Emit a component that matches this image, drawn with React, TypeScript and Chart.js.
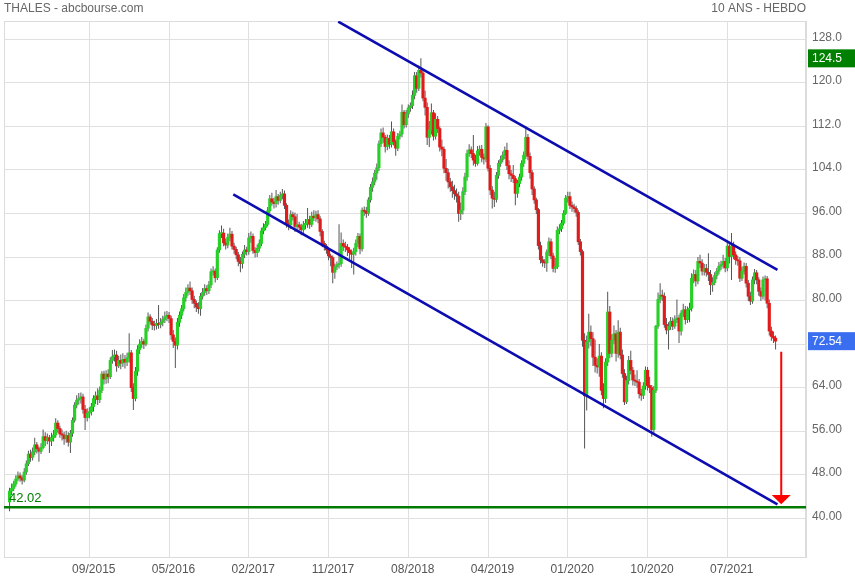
import React, { useEffect, useRef } from "react";
import { Chart, registerables } from "chart.js";

Chart.register(...registerables);

// ---- data (weekly candles, index 0 = first week shown) ----
const firstOpen = 43.0;

const closes = [
  45.0, 45.5, 46.3, 47.2, 47.8, 47.4, 47.0, 48.5, 50.0, 51.8,
  51.2, 52.2, 53.5, 52.8, 52.3, 53.0, 55.0, 54.3, 54.8, 54.2,
  54.8, 55.3, 57.5, 56.5, 55.5, 55.3, 54.6, 55.2, 54.0, 55.6,
  58.0, 60.8, 61.7, 62.0, 62.3, 60.0, 58.5, 59.3, 59.6, 60.5,
  62.0, 62.5, 61.8, 63.5, 66.5, 65.6, 66.5, 66.0, 69.0, 69.7,
  70.0, 68.0, 69.0, 68.5, 69.2, 68.7, 69.5, 70.4, 64.0, 62.0,
  67.0, 71.0, 72.0, 72.5, 72.0, 74.9, 77.0, 76.2, 75.5, 75.4,
  75.8, 75.6, 76.0, 76.5, 77.0, 77.3, 76.7, 73.7, 72.5, 71.8,
  76.0, 77.3, 78.5, 80.5, 81.5, 82.3, 81.8, 80.2, 79.5, 78.8,
  78.5, 80.8, 81.5, 82.2, 81.8, 82.9, 85.3, 85.4, 84.2, 89.3,
  92.3, 92.4, 90.6, 90.2, 91.6, 92.2, 90.0, 89.4, 88.4, 87.2,
  86.8, 88.5, 89.3, 89.0, 91.5, 91.8, 89.2, 88.8, 89.6, 90.5,
  92.8, 93.4, 94.0, 96.5, 98.7, 98.1, 97.8, 99.1, 98.4, 99.3,
  99.6, 97.5, 94.2, 93.9, 95.8, 95.4, 93.6, 93.9, 93.5, 93.0,
  93.9, 94.2, 94.9, 94.0, 95.5, 95.2, 95.8, 95.0, 92.7, 90.5,
  90.0, 89.3, 88.2, 87.9, 85.2, 86.2, 86.6, 86.8, 90.5, 90.0,
  89.8, 89.3, 88.8, 88.5, 89.0, 90.5, 91.8, 89.5, 96.6, 96.4,
  96.0, 98.5, 100.8, 101.8, 103.4, 104.4, 108.8, 110.8, 110.0, 108.3,
  109.8, 108.7, 111.0, 109.2, 108.0, 110.2, 110.6, 114.6, 112.3, 114.3,
  115.4, 115.8, 117.7, 121.3, 119.0, 122.3, 121.8, 117.2, 115.5, 110.0,
  111.3, 114.5, 110.2, 113.3, 111.6, 108.2, 107.8, 104.3, 103.5, 101.8,
  100.9, 100.2, 99.6, 99.2, 96.0, 96.6, 100.0, 102.7, 107.0, 107.7,
  107.0, 105.8, 105.2, 107.5, 107.8, 106.3, 106.0, 111.9, 104.3, 100.3,
  98.8, 98.6, 103.0, 105.2, 105.9, 106.7, 107.6, 104.8, 103.3, 103.0,
  102.4, 99.7, 101.5, 102.7, 105.2, 106.7, 110.0, 106.5, 103.5, 100.5,
  98.5, 96.7, 90.1, 87.5, 87.0, 86.9, 88.9, 90.8, 88.2, 85.9,
  86.2, 92.9, 93.2, 94.2, 96.0, 98.8, 99.1, 97.5, 97.2, 96.9,
  96.2, 90.8, 89.0, 72.7, 62.5, 72.4, 74.2, 73.0, 69.6, 68.1,
  67.8, 69.8, 63.5, 62.0, 68.7, 77.9, 70.3, 72.7, 73.9, 70.3,
  74.2, 70.0, 66.6, 61.4, 65.3, 69.0, 67.2, 65.4, 65.2, 65.0,
  62.9, 62.6, 64.3, 67.2, 64.4, 64.0, 56.3, 63.5, 75.3, 80.2,
  81.0, 80.8, 75.6, 74.6, 75.3, 76.2, 75.3, 76.5, 76.8, 74.4,
  77.7, 78.3, 76.5, 78.3, 78.6, 84.1, 84.8, 83.6, 87.2, 86.9,
  85.4, 85.9, 85.2, 84.8, 82.9, 83.3, 84.6, 85.4, 86.3, 86.6,
  87.2, 86.0, 90.0, 88.1, 90.0, 88.4, 87.5, 87.3, 84.1, 85.4,
  86.3, 83.2, 80.8, 79.9, 83.8, 85.1, 83.8, 81.7, 80.8, 83.8,
  84.0, 79.5, 74.4, 73.4, 73.1, 72.54,
];

const highs = [
  45.6, 46.4, 46.9, 47.9, 48.6, 48.4, 47.9, 49.2, 50.6, 52.4,
  52.6, 53.0, 54.8, 54.0, 53.2, 53.8, 56.3, 55.8, 55.6, 55.3,
  55.7, 56.2, 58.4, 58.0, 57.0, 56.3, 55.9, 56.1, 55.8, 56.2,
  58.5, 61.3, 62.6, 63.0, 63.1, 62.9, 60.8, 60.2, 60.4, 61.2,
  62.6, 63.3, 63.9, 64.2, 67.0, 67.1, 67.2, 67.4, 69.6, 70.9,
  71.0, 70.8, 69.8, 70.1, 70.3, 70.0, 70.4, 74.0, 70.9, 64.8,
  67.8, 71.8, 72.9, 73.3, 73.0, 75.6, 77.8, 77.5, 76.8, 76.3,
  76.6, 79.2, 76.8, 77.2, 78.0, 78.1, 77.9, 77.2, 74.6, 73.2,
  76.8, 78.0, 79.2, 81.2, 82.4, 83.0, 83.5, 82.4, 80.9, 80.0,
  79.7, 81.4, 82.3, 83.0, 82.8, 83.6, 85.9, 86.3, 85.9, 89.8,
  92.9, 93.8, 93.2, 91.4, 92.3, 93.4, 92.8, 90.6, 89.9, 88.9,
  88.0, 89.0, 90.2, 89.9, 92.4, 92.7, 92.3, 89.8, 90.3, 91.2,
  93.4, 94.2, 94.6, 97.2, 99.4, 99.8, 98.9, 100.3, 99.6, 100.0,
  100.5, 100.2, 97.9, 94.9, 96.6, 96.3, 96.2, 95.9, 94.5, 94.1,
  94.6, 95.0, 97.0, 95.6, 96.3, 96.6, 96.5, 96.6, 95.5, 93.1,
  91.0, 90.4, 89.8, 88.6, 88.3, 86.8, 87.2, 94.0, 92.5, 91.2,
  90.8, 90.4, 89.8, 89.4, 89.7, 91.2, 92.4, 92.3, 97.1, 97.3,
  97.2, 99.0, 101.4, 102.6, 104.0, 105.2, 109.4, 111.6, 111.8, 110.4,
  110.5, 110.4, 112.9, 111.6, 109.6, 110.8, 111.2, 116.0, 115.0, 115.0,
  116.0, 116.4, 118.6, 122.0, 122.0, 123.2, 124.5, 122.3, 118.6, 116.4,
  113.0, 116.2, 115.0, 114.4, 113.9, 112.0, 109.6, 108.3, 106.0, 104.2,
  102.5, 102.0, 101.3, 100.6, 100.0, 98.0, 100.8, 103.5, 107.7, 108.7,
  108.3, 110.4, 106.8, 108.4, 108.5, 108.6, 107.0, 112.6, 112.2, 104.9,
  101.0, 100.0, 103.6, 105.8, 106.6, 107.4, 108.3, 109.0, 105.8, 104.0,
  104.9, 102.9, 102.2, 103.3, 105.8, 107.4, 112.0, 110.6, 107.2, 104.0,
  101.0, 98.9, 97.0, 90.8, 88.2, 87.6, 89.4, 91.6, 91.4, 88.8,
  87.8, 93.6, 94.0, 94.8, 96.6, 99.4, 100.0, 100.0, 98.2, 97.8,
  97.4, 96.6, 91.3, 89.4, 74.0, 73.6, 77.6, 75.4, 74.2, 72.8,
  69.4, 72.0, 70.5, 64.8, 69.4, 81.6, 79.0, 73.8, 75.4, 74.6,
  76.4, 75.0, 71.0, 67.4, 66.2, 69.8, 70.8, 67.8, 66.4, 67.2,
  65.6, 63.8, 65.0, 67.9, 67.8, 66.0, 64.5, 64.3, 75.5, 81.5,
  83.2, 82.0, 81.5, 76.8, 76.0, 77.0, 76.9, 77.3, 80.2, 77.4,
  78.2, 79.4, 79.0, 78.9, 79.6, 85.0, 85.7, 85.6, 88.0, 88.4,
  87.6, 86.7, 86.7, 88.7, 85.6, 84.3, 85.2, 86.0, 87.1, 87.3,
  88.4, 87.8, 90.8, 90.7, 92.4, 90.8, 89.0, 88.2, 88.0, 86.2,
  87.0, 86.9, 83.8, 81.6, 84.4, 85.8, 85.6, 84.3, 82.4, 84.4,
  84.6, 84.5, 80.2, 75.2, 74.3, 73.6,
];

const lows = [
  41.3, 44.3, 45.0, 45.8, 46.8, 46.7, 46.2, 46.6, 48.0, 49.6,
  50.4, 50.6, 51.6, 51.9, 50.4, 51.8, 52.7, 53.3, 53.6, 52.0,
  53.3, 54.1, 54.8, 55.7, 54.8, 54.3, 53.5, 53.9, 53.2, 52.0,
  55.0, 57.6, 60.2, 60.9, 61.1, 59.2, 56.2, 57.8, 58.4, 58.9,
  59.6, 61.0, 60.8, 61.2, 63.0, 64.6, 64.7, 64.8, 65.6, 68.4,
  68.8, 66.9, 67.6, 67.4, 67.8, 67.5, 68.0, 68.6, 63.2, 59.9,
  61.5, 66.2, 70.2, 71.3, 71.1, 71.6, 74.3, 75.6, 74.6, 74.5,
  74.7, 74.8, 74.9, 75.3, 75.9, 76.2, 75.9, 72.8, 71.3, 67.6,
  71.0, 75.2, 76.6, 78.0, 79.8, 80.9, 81.0, 79.4, 78.6, 77.9,
  77.6, 77.2, 80.2, 80.9, 81.0, 81.2, 82.3, 84.6, 83.3, 83.8,
  88.8, 91.5, 90.0, 89.4, 89.6, 90.9, 89.4, 88.6, 87.6, 86.3,
  85.2, 85.9, 87.8, 88.3, 88.4, 90.6, 88.6, 87.9, 88.0, 89.0,
  90.0, 92.2, 92.9, 93.6, 96.0, 97.4, 96.9, 97.1, 97.6, 97.9,
  98.6, 96.8, 93.4, 92.9, 93.2, 94.7, 92.6, 92.9, 92.6, 92.0,
  92.3, 93.1, 93.4, 93.2, 93.5, 94.6, 94.5, 94.2, 91.8, 89.8,
  89.2, 88.6, 87.4, 86.3, 83.2, 84.0, 85.6, 85.9, 86.2, 89.1,
  88.9, 88.2, 87.6, 86.0, 84.8, 88.3, 89.8, 88.5, 89.0, 95.6,
  95.2, 95.6, 98.0, 100.0, 101.2, 102.2, 103.8, 108.2, 109.0, 107.2,
  107.6, 107.9, 108.1, 108.5, 106.6, 107.5, 109.6, 110.0, 111.6, 111.8,
  113.6, 114.7, 115.2, 117.0, 118.2, 118.5, 121.0, 116.6, 114.0, 108.6,
  108.2, 110.5, 109.4, 109.6, 110.8, 107.4, 106.5, 103.4, 102.0, 100.6,
  100.0, 98.9, 98.5, 98.0, 94.5, 94.8, 95.8, 99.4, 102.0, 106.4,
  106.2, 104.8, 104.6, 104.8, 106.6, 105.4, 105.0, 105.4, 103.7, 99.4,
  96.9, 97.2, 98.0, 102.4, 104.6, 105.4, 106.0, 104.0, 102.3, 101.8,
  101.6, 97.5, 98.9, 100.8, 102.0, 104.6, 106.0, 105.8, 102.4, 99.4,
  97.8, 95.9, 89.4, 86.8, 86.2, 86.0, 85.3, 88.2, 87.6, 85.2,
  85.1, 85.8, 92.2, 92.6, 93.8, 95.7, 98.0, 96.8, 96.3, 96.2,
  95.4, 90.2, 88.3, 71.5, 52.8, 59.8, 71.2, 71.6, 68.0, 66.8,
  66.6, 66.0, 62.6, 60.2, 61.2, 68.0, 69.4, 69.6, 72.0, 68.8,
  69.5, 69.2, 65.8, 60.8, 61.0, 64.6, 66.4, 64.4, 64.3, 64.0,
  62.0, 61.6, 61.9, 63.6, 63.5, 63.0, 55.0, 55.4, 63.0, 74.8,
  79.5, 79.9, 75.0, 73.8, 71.0, 74.6, 74.6, 74.8, 75.9, 72.2,
  73.6, 77.0, 75.6, 75.9, 76.0, 78.0, 83.2, 82.6, 83.0, 86.0,
  84.6, 84.6, 84.4, 83.6, 81.0, 81.6, 82.8, 83.9, 84.8, 85.6,
  85.9, 85.2, 85.4, 86.8, 83.8, 87.6, 86.6, 86.4, 83.4, 83.6,
  84.8, 82.4, 79.9, 79.2, 79.4, 83.0, 83.0, 80.9, 79.9, 80.2,
  80.0, 78.6, 73.6, 72.6, 72.2, 71.0,
];

const xTickIndex = [38, 76, 114, 152, 190, 228, 266, 304, 342];
const xTickLabels = ["09/2015", "05/2016", "02/2017", "11/2017", "08/2018", "04/2019", "01/2020", "10/2020", "07/2021"];
const yTicks = [40, 48, 56, 64, 72, 80, 88, 96, 104, 112, 120, 128];

const upperTrend = [ { x: 156.6, y: 131.25 }, { x: 365.9, y: 85.63 } ];
const lowerTrend = [ { x: 106.6, y: 99.49 }, { x: 365.9, y: 42.57 } ];
const supportLevel = 42.02;
const arrowX = 367.7;
const arrowTop = 70.6;
const arrowHeadTop = 44.3;
const arrowTip = 42.6;

const titleLeft = "THALES - abcbourse.com";
const titleRight = "10 ANS - HEBDO";

const X_MIN = -2.64;
const X_MAX = 379.5;
const Y_MIN = 32.89;
const Y_MAX = 131.36;

const FONT = '"Liberation Sans", Arial, Helvetica, sans-serif';
const GREEN = "#26d026";
const RED = "#e01b1b";
const BLUE = "#0c0cb0";

const opens = closes.map((c, i) => (i === 0 ? firstOpen : closes[i - 1]));

const decorPlugin = {
  id: "decor",
  beforeDatasetsDraw(chart: any) {
    const { ctx, chartArea: a } = chart;
    ctx.save();
    ctx.strokeStyle = "#dcdcdc";
    ctx.lineWidth = 1;
    ctx.strokeRect(a.left + 0.5, a.top + 0.5, a.right - a.left - 1, a.bottom - a.top);
    ctx.restore();
  },
  afterDraw(chart: any) {
    const { ctx, chartArea: a, scales } = chart;
    const xs = scales.x;
    const ys = scales.y;
    ctx.save();
    // header texts
    ctx.font = "12px " + FONT;
    ctx.fillStyle = "#666666";
    ctx.textBaseline = "middle";
    ctx.textAlign = "left";
    ctx.fillText(titleLeft, 4, 9);
    ctx.textAlign = "right";
    ctx.fillText(titleRight, a.right, 9);

    // support label
    ctx.font = "13px " + FONT;
    ctx.fillStyle = "#008000";
    ctx.textAlign = "left";
    ctx.textBaseline = "alphabetic";
    ctx.fillText(supportLevel.toFixed(2), a.left + 5, ys.getPixelForValue(supportLevel) - 5);

    // arrow head
    const ax = xs.getPixelForValue(arrowX);
    const ht = ys.getPixelForValue(arrowHeadTop);
    const tip = ys.getPixelForValue(arrowTip);
    ctx.fillStyle = "#ff0000";
    ctx.beginPath();
    ctx.moveTo(ax - 9.5, ht);
    ctx.lineTo(ax + 9.5, ht);
    ctx.lineTo(ax, tip);
    ctx.closePath();
    ctx.fill();

    // price tags
    const maxHigh = Math.max(...highs);
    const last = closes[closes.length - 1];
    const tag = (val: number, text: string, color: string) => {
      const py = ys.getPixelForValue(val);
      ctx.fillStyle = color;
      ctx.fillRect(a.right + 2, py - 9, chart.width - a.right - 2, 18);
      ctx.fillStyle = "#ffffff";
      ctx.font = "12px " + FONT;
      ctx.textAlign = "left";
      ctx.textBaseline = "middle";
      ctx.fillText(text, a.right + 6, py + 0.5);
    };
    tag(maxHigh, maxHigh.toFixed(1), "#008000");
    tag(last, last.toFixed(2), "#3a6ef0");
    ctx.restore();
  },
};

export default function App() {
  const ref = useRef<HTMLCanvasElement | null>(null);

  useEffect(() => {
    if (!ref.current) return;
    const wickData = closes.map((_, i) => ({ x: i, y: [lows[i], highs[i]] }));
    const bodyData = closes.map((c, i) => ({ x: i, y: [opens[i], c] }));
    const bodyColors = closes.map((c, i) => (c >= opens[i] ? GREEN : RED));

    const chart = new Chart(ref.current, {
      type: "bar",
      data: {
        datasets: [
          {
            type: "line",
            label: "upper",
            data: upperTrend,
            borderColor: BLUE,
            borderWidth: 2.6,
            pointRadius: 0,
            fill: false,
            order: 0,
          } as any,
          {
            type: "line",
            label: "lower",
            data: lowerTrend,
            borderColor: BLUE,
            borderWidth: 2.6,
            pointRadius: 0,
            fill: false,
            order: 0,
          } as any,
          {
            type: "line",
            label: "support",
            data: [ { x: X_MIN, y: supportLevel }, { x: X_MAX, y: supportLevel } ],
            borderColor: "#007a00",
            borderWidth: 2.6,
            pointRadius: 0,
            fill: false,
            order: 0,
          } as any,
          {
            type: "line",
            label: "arrow",
            data: [ { x: arrowX, y: arrowTop }, { x: arrowX, y: arrowHeadTop } ],
            borderColor: "#ff0000",
            borderWidth: 2,
            pointRadius: 0,
            fill: false,
            order: 0,
          } as any,
          {
            type: "bar",
            label: "bodies",
            data: bodyData,
            backgroundColor: bodyColors,
            barThickness: 2.5,
            grouped: false,
            minBarLength: 1,
            order: 2,
          } as any,
          {
            type: "bar",
            label: "wicks",
            data: wickData,
            backgroundColor: "#555555",
            barThickness: 1,
            inflateAmount: 0,
            grouped: false,
            order: 3,
          } as any,
        ],
      },
      options: {
        responsive: false,
        animation: false,
        events: [],
        layout: { padding: { left: 4, top: 21, right: 0, bottom: 0 } },
        plugins: {
          legend: { display: false },
          tooltip: { enabled: false },
          title: { display: false },
        },
        scales: {
          x: {
            type: "linear",
            min: X_MIN,
            max: X_MAX,
            offset: false,
            grid: { color: "#e0e0e0", drawTicks: false, offset: false },
            border: { color: "#dcdcdc" },
            afterBuildTicks: (s: any) => {
              s.ticks = xTickIndex.map((v) => ({ value: v }));
            },
            afterFit: (s: any) => {
              s.height = 23;
            },
            ticks: {
              autoSkip: false,
              maxRotation: 0,
              minRotation: 0,
              padding: 5,
              labelOffset: 4.5,
              color: "#555555",
              font: { family: FONT, size: 12 },
              callback: (v: any) => {
                const k = xTickIndex.indexOf(Number(v));
                return k >= 0 ? xTickLabels[k] : "";
              },
            },
          },
          y: {
            type: "linear",
            position: "right",
            min: Y_MIN,
            max: Y_MAX,
            grid: { color: "#e0e0e0", drawTicks: false },
            border: { color: "#dcdcdc" },
            afterBuildTicks: (s: any) => {
              s.ticks = yTicks.map((v) => ({ value: v }));
            },
            afterFit: (s: any) => {
              s.width = 49;
            },
            ticks: {
              padding: 6,
              labelOffset: -2,
              color: "#666666",
              font: { family: FONT, size: 12 },
              callback: (v: any) => {
                const n = Number(v);
                return n >= 100 ? n.toFixed(1) : n.toFixed(2);
              },
            },
          },
        },
      } as any,
      plugins: [decorPlugin],
    });
    return () => chart.destroy();
  }, []);

  return (
    <div style={{ position: "absolute", left: 0, top: 0, width: 855, height: 580, background: "#ffffff" }}>
      <canvas ref={ref} width={855} height={580} style={{ display: "block" }} />
    </div>
  );
}
